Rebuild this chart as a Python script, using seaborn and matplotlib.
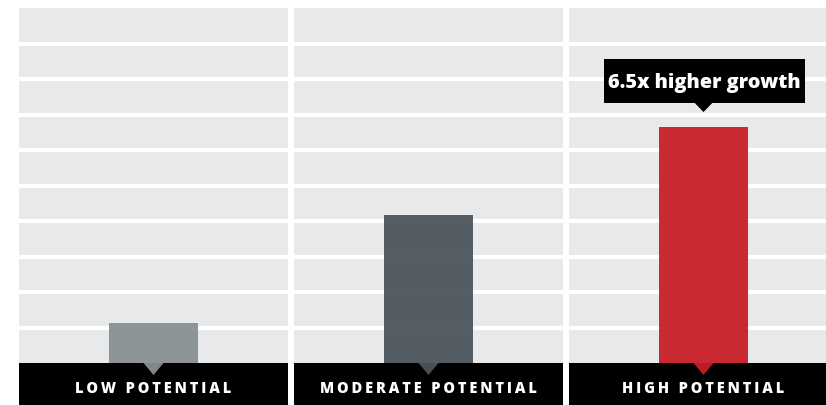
import matplotlib
matplotlib.use("Agg")
import matplotlib.pyplot as plt
import seaborn as sns
import pandas as pd
from matplotlib.patches import Rectangle, Polygon
from matplotlib.transforms import blended_transform_factory

categories = ["LOW POTENTIAL", "MODERATE POTENTIAL", "HIGH POTENTIAL"]
values = [1.13, 4.17, 6.65]
colors = ["#889093", "#4C555C", "#C81E27"]
annotation = "6.5x higher growth"

sns.set_theme(style="white")
plt.rcParams['font.family'] = ['Open Sans', 'DejaVu Sans']

W, H = 826, 406
fig = plt.figure(figsize=(W / 100, H / 100), dpi=100)

lefts = [19, 294, 569]
pw = 269
ax_bottom = 42
ax_h = 355
bg = "#E8E9EB"

def spaced(s):
    return "\u2009".join(list(s))

for i, (cat, val, col) in enumerate(zip(categories, values, colors)):
    ax = fig.add_axes([lefts[i] / W, ax_bottom / H, pw / W, ax_h / H])
    ax.set_facecolor(bg)
    df = pd.DataFrame({"cat": [cat], "val": [val]})
    sns.barplot(data=df, x="cat", y="val", color=col, width=1.0, ax=ax,
                saturation=1, alpha=0.95, linewidth=0, edgecolor="none", zorder=2)
    ax.set_xlim(-1.5, 1.5)
    ax.set_ylim(0, 10)
    for yv in range(1, 10):
        ax.axhline(yv, color="white", lw=3.0, zorder=1)
    for s in ax.spines.values():
        s.set_visible(False)
    ax.set_xticks([])
    ax.set_yticks([])
    ax.set_xlabel("")
    ax.set_ylabel("")
    # black band
    band = Rectangle((0, -42 / ax_h), 1, 42 / ax_h, transform=ax.transAxes,
                     facecolor="black", edgecolor="none", clip_on=False, zorder=3)
    ax.add_patch(band)
    # pointer triangle
    tr = blended_transform_factory(ax.transData, ax.transAxes)
    hw = 10 / pw * 3
    th = 12 / ax_h
    tri = Polygon([(-hw, 0), (hw, 0), (0, -th)], closed=True, transform=tr,
                  facecolor=col, edgecolor="none", alpha=0.95, clip_on=False, zorder=4)
    ax.add_patch(tri)
    ax.text(0, -25 / ax_h, spaced(cat), transform=tr, ha="center", va="center",
            color="white", fontsize=10.5, fontweight="heavy", zorder=5, clip_on=False)
    if i == 2:
        box = Rectangle((-1.112, val + 0.67), 2.242, 1.24, facecolor="black",
                        edgecolor="none", zorder=6, clip_on=False)
        ax.add_patch(box)
        ax.text(0.01, val + 1.27, annotation, ha="center", va="center",
                color="white", fontsize=14.3, fontweight="heavy", zorder=7)
        tri2 = Polygon([(-0.1, val + 0.68), (0.1, val + 0.68), (0, val + 0.42)],
                       closed=True, facecolor="black", edgecolor="none",
                       zorder=6, clip_on=False)
        ax.add_patch(tri2)

fig.savefig("out.png", dpi=100, facecolor="white")
